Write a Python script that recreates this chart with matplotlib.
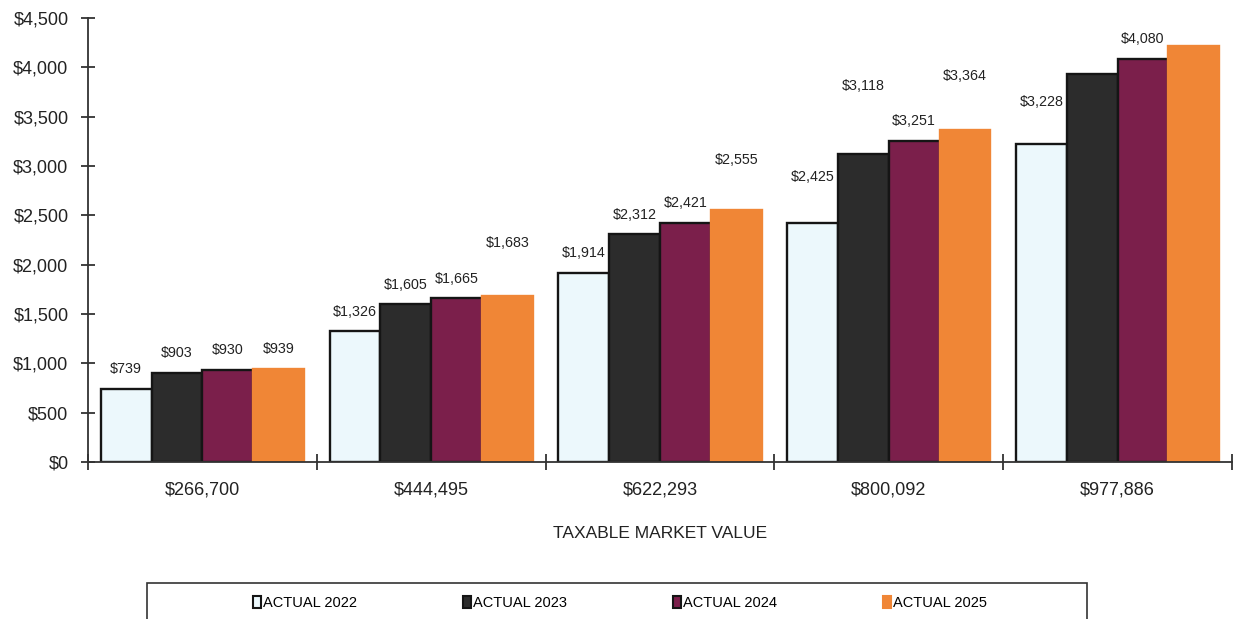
import matplotlib
matplotlib.use('Agg')
import matplotlib.pyplot as plt
import numpy as np
from matplotlib.patches import Rectangle, Patch
from matplotlib.ticker import FuncFormatter

plt.rcParams['font.family'] = ['Liberation Sans', 'DejaVu Sans']

# data
market_values = ['$266,700', '$444,495', '$622,293', '$800,092', '$977,886']
series_names = ['ACTUAL 2022', 'ACTUAL 2023', 'ACTUAL 2024', 'ACTUAL 2025']
actual_2022 = [739, 1326, 1914, 2425, 3228]
actual_2023 = [903, 1605, 2312, 3118, 3930]
actual_2024 = [930, 1665, 2421, 3251, 4080]
actual_2025 = [939, 1683, 2555, 3364, 4220]
# printed value labels (some are missing in the original)
labels_2022 = ['$739', '$1,326', '$1,914', '$2,425', '$3,228']
labels_2023 = ['$903', '$1,605', '$2,312', '$3,118', '']
labels_2024 = ['$930', '$1,665', '$2,421', '$3,251', '$4,080']
labels_2025 = ['$939', '$1,683', '$2,555', '$3,364', '']

# styling
colors = ['#ecf8fc', '#2c2c2c', '#7b1f4b', '#f08636']
edges = ['#151515', '#151515', '#151515', '#f08636']
# label offset above bar top, in pixels (original labels float unevenly)
label_pad = [[20, 19, 20, 46, 42],
             [20, 19, 19, 68, 20],
             [20, 19, 20, 20, 20],
             [20, 53, 50, 54, 20]]

fig = plt.figure(figsize=(12.5, 6.19), dpi=100)
ax = fig.add_axes([88 / 1250, 1 - 462 / 619, (1232 - 88) / 1250, (462 - 18) / 619])

x = np.arange(len(market_values))
width = 0.222
all_series = [actual_2022, actual_2023, actual_2024, actual_2025]
all_labels = [labels_2022, labels_2023, labels_2024, labels_2025]

for i, vals in enumerate(all_series):
    pos = x + (i - 1.5) * width
    ax.bar(pos, vals, width, color=colors[i], edgecolor=edges[i], linewidth=1.7, zorder=2)
    for j, (px, v) in enumerate(zip(pos, vals)):
        if all_labels[i][j]:
            ax.annotate(all_labels[i][j], (px, v), xytext=(0, label_pad[i][j] * 0.72),
                        textcoords='offset points', ha='center', va='center',
                        fontsize=10.3, color='#222222')

ax.set_xlim(-0.5, len(market_values) - 0.5)
ax.set_ylim(0, 4500)
ax.set_yticks(np.arange(0, 4501, 500))
ax.yaxis.set_major_formatter(FuncFormatter(lambda v, p: '${:,.0f}'.format(v)))

ax.set_xticks(x)
ax.set_xticklabels(market_values)
ax.set_xticks(np.arange(-0.5, len(market_values)), minor=True)
ax.tick_params(axis='x', which='major', length=0, pad=14, labelsize=13, colors='#222222')
ax.tick_params(axis='x', which='minor', direction='inout', length=12, width=1.3, color='#333333')
ax.tick_params(axis='y', direction='inout', length=10, width=1.3, color='#333333',
               pad=9, labelsize=13, labelcolor='#222222')

for s in ['top', 'right']:
    ax.spines[s].set_visible(False)
for s in ['left', 'bottom']:
    ax.spines[s].set_linewidth(1.3)
    ax.spines[s].set_color('#333333')

fig.text(660 / 1250, 1 - 533 / 619, 'TAXABLE MARKET VALUE', ha='center', va='center',
         fontsize=12.5, color='#222222')

# legend with a plain box around it
handles = [Patch(facecolor=colors[i], edgecolor=edges[i], linewidth=1.5) for i in range(4)]
fig.legend(handles, series_names, loc='center', bbox_to_anchor=(620 / 1250, 1 - 603 / 619),
           ncol=4, frameon=False, fontsize=10.5, handlelength=0.55, handleheight=0.8,
           handletextpad=0.15, columnspacing=7.25)
fig.patches.append(Rectangle((147 / 1250, -0.02), (1087 - 147) / 1250, 0.02 + 1 - 583 / 619,
                             transform=fig.transFigure, fill=False, edgecolor='#333333',
                             linewidth=1.2))

fig.savefig('out.png', dpi=100)
